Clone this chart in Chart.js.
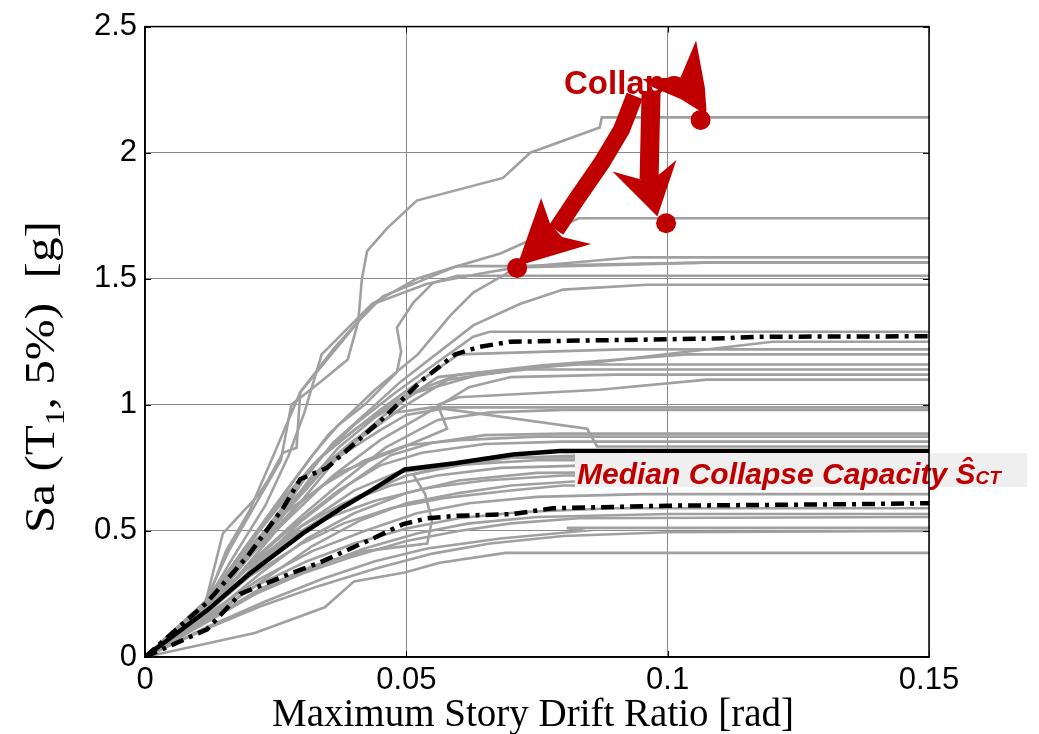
<!DOCTYPE html>
<html>
<head>
<meta charset="utf-8">
<script src="https://cdn.jsdelivr.net/npm/chart.js@4.4.1/dist/chart.umd.min.js"></script>
<style>
  html, body { margin: 0; padding: 0; background: #ffffff; }
  #wrap { width: 1039px; height: 734px; position: relative; }
</style>
</head>
<body>
<div id="wrap"><canvas id="ida" width="1039" height="734"></canvas></div>
<script>
// ---- Incremental dynamic analysis curves: [max story drift ratio, Sa(T1,5%)] ----
const strongRecords = [
  [[0,0],[0.0115,0.22],[0.016,0.42],[0.021,0.6],[0.026,0.78],[0.028,1.0],[0.0335,1.09],[0.0388,1.18],[0.0408,1.33],[0.0415,1.5],[0.0425,1.61],[0.0463,1.7],[0.052,1.81],[0.0685,1.9],[0.0737,2.0],[0.087,2.1],[0.0874,2.14],[0.15,2.14]],
  [[0,0],[0.0115,0.21],[0.0149,0.49],[0.0216,0.64],[0.0235,0.7],[0.0264,0.81],[0.029,0.83],[0.0297,1.05],[0.036,1.22],[0.0403,1.32],[0.0455,1.43],[0.0597,1.55],[0.068,1.6],[0.083,1.74],[0.15,1.74]],
  [[0,0],[0.0115,0.21],[0.017,0.4],[0.023,0.6],[0.0275,0.8],[0.0305,0.97],[0.0338,1.2],[0.0434,1.4],[0.052,1.5],[0.0597,1.55],[0.0712,1.55],[0.109,1.565],[0.15,1.565]],
  [[0,0],[0.0115,0.2],[0.019,0.43],[0.027,0.66],[0.035,0.88],[0.044,1.06],[0.0522,1.2],[0.0584,1.354],[0.0628,1.445],[0.0712,1.545],[0.0934,1.585],[0.15,1.585]],
  [[0,0],[0.011,0.19],[0.018,0.4],[0.025,0.6],[0.032,0.8],[0.037,0.92],[0.042,1.0],[0.0482,1.13],[0.049,1.21],[0.0482,1.307],[0.0513,1.405],[0.0551,1.484],[0.0597,1.512],[0.15,1.512]],
  [[0,0],[0.012,0.2],[0.02,0.42],[0.028,0.64],[0.036,0.85],[0.043,0.98],[0.0488,1.09],[0.0628,1.315],[0.0717,1.4],[0.08,1.457],[0.096,1.476],[0.15,1.476]],
  [[0,0],[0.0115,0.2],[0.0155,0.42],[0.02,0.58],[0.025,0.82],[0.0297,1.05],[0.0436,1.4],[0.054,1.48],[0.064,1.52],[0.0712,1.545],[0.109,1.565],[0.15,1.565]]
];

const upperMidRecords = [
  [[0,0],[0.0115,0.21],[0.018,0.4],[0.025,0.58],[0.032,0.76],[0.04,0.92],[0.048,1.05],[0.056,1.17],[0.0628,1.27],[0.066,1.29],[0.15,1.29]],
  [[0,0],[0.012,0.19],[0.02,0.4],[0.027,0.6],[0.033,0.78],[0.04,0.9],[0.05,1.04],[0.06,1.12],[0.087,1.17],[0.12,1.25],[0.15,1.25]],
  [[0,0],[0.0115,0.2],[0.019,0.42],[0.026,0.62],[0.034,0.8],[0.045,0.98],[0.053,1.1],[0.06,1.2],[0.091,1.22],[0.15,1.22]],
  [[0,0],[0.012,0.18],[0.021,0.4],[0.03,0.62],[0.038,0.82],[0.047,0.98],[0.056,1.11],[0.076,1.157],[0.1037,1.2],[0.15,1.2]],
  [[0,0],[0.0115,0.19],[0.02,0.41],[0.026,0.55],[0.032,0.72],[0.04,0.86],[0.05,1.0],[0.058,1.1],[0.075,1.15],[0.083,1.16],[0.15,1.16]],
  [[0,0],[0.012,0.2],[0.022,0.45],[0.03,0.66],[0.037,0.83],[0.044,0.95],[0.052,1.05],[0.064,1.12],[0.073,1.14],[0.15,1.14]],
  [[0,0],[0.011,0.18],[0.019,0.38],[0.028,0.56],[0.036,0.72],[0.045,0.86],[0.055,0.98],[0.062,1.07],[0.07,1.11],[0.09,1.12],[0.15,1.12]],
  [[0,0],[0.0115,0.2],[0.021,0.42],[0.029,0.6],[0.037,0.73],[0.0488,0.827],[0.0578,0.905],[0.056,1.0],[0.06,1.03],[0.087,1.06],[0.1075,1.1],[0.15,1.1]]
];

const lowerMidRecords = [
  [[0,0],[0.0115,0.2],[0.02,0.4],[0.028,0.6],[0.035,0.76],[0.042,0.88],[0.048,0.97],[0.055,0.99],[0.15,0.99]],
  [[0,0],[0.012,0.19],[0.021,0.39],[0.03,0.56],[0.038,0.7],[0.046,0.83],[0.056,0.94],[0.066,0.97],[0.08,0.98],[0.15,0.98]],
  [[0,0],[0.0115,0.2],[0.02,0.43],[0.028,0.62],[0.036,0.78],[0.045,0.9],[0.05,0.96],[0.057,0.985],[0.0846,0.905],[0.0865,0.835],[0.15,0.835]],
  [[0,0],[0.012,0.18],[0.022,0.38],[0.03,0.54],[0.04,0.7],[0.047,0.8],[0.055,0.85],[0.065,0.88],[0.08,0.886],[0.15,0.886]],
  [[0,0],[0.011,0.2],[0.018,0.4],[0.026,0.56],[0.034,0.68],[0.042,0.78],[0.05,0.84],[0.06,0.86],[0.075,0.874],[0.15,0.874]],
  [[0,0],[0.012,0.19],[0.02,0.37],[0.029,0.53],[0.037,0.66],[0.045,0.76],[0.053,0.81],[0.065,0.845],[0.08,0.854],[0.15,0.854]]
];

const centralRecords = [
  [[0,0],[0.012,0.18],[0.021,0.36],[0.03,0.5],[0.04,0.63],[0.05,0.72],[0.06,0.76],[0.07,0.79],[0.085,0.8],[0.15,0.8]],
  [[0,0],[0.011,0.17],[0.02,0.34],[0.03,0.52],[0.04,0.66],[0.048,0.73],[0.058,0.76],[0.075,0.78],[0.15,0.78]],
  [[0,0],[0.0115,0.19],[0.021,0.38],[0.03,0.52],[0.038,0.61],[0.047,0.68],[0.056,0.72],[0.068,0.75],[0.085,0.76],[0.15,0.76]],
  [[0,0],[0.012,0.16],[0.022,0.33],[0.031,0.47],[0.04,0.57],[0.05,0.65],[0.06,0.7],[0.075,0.73],[0.15,0.74]],
  [[0,0],[0.011,0.18],[0.019,0.34],[0.028,0.48],[0.036,0.56],[0.044,0.62],[0.054,0.67],[0.065,0.7],[0.08,0.72],[0.15,0.72]],
  [[0,0],[0.012,0.15],[0.023,0.31],[0.032,0.44],[0.041,0.54],[0.05,0.61],[0.06,0.65],[0.07,0.68],[0.085,0.7],[0.15,0.7]],
  [[0,0],[0.0115,0.17],[0.02,0.32],[0.03,0.45],[0.038,0.53],[0.047,0.59],[0.057,0.63],[0.07,0.66],[0.08,0.68],[0.15,0.68]],
  [[0,0],[0.0115,0.14],[0.022,0.27],[0.032,0.36],[0.042,0.42],[0.054,0.45],[0.0549,0.54],[0.0536,0.646],[0.0513,0.724],[0.06,0.77],[0.07,0.79],[0.15,0.795]]
];

const weakRecords = [
  [[0,0],[0.012,0.17],[0.022,0.31],[0.032,0.42],[0.042,0.5],[0.052,0.57],[0.062,0.61],[0.075,0.635],[0.095,0.646],[0.15,0.646]],
  [[0,0],[0.0115,0.15],[0.021,0.28],[0.031,0.38],[0.04,0.45],[0.05,0.51],[0.06,0.55],[0.072,0.575],[0.09,0.59],[0.15,0.59]],
  [[0,0],[0.012,0.14],[0.022,0.26],[0.033,0.36],[0.042,0.43],[0.052,0.49],[0.062,0.53],[0.075,0.555],[0.1,0.567],[0.15,0.567]],
  [[0,0],[0.011,0.13],[0.02,0.24],[0.03,0.33],[0.04,0.4],[0.05,0.46],[0.06,0.5],[0.07,0.53],[0.083,0.55],[0.15,0.555]],
  [[0,0],[0.012,0.12],[0.023,0.22],[0.034,0.31],[0.044,0.38],[0.054,0.43],[0.068,0.47],[0.0838,0.5],[0.0807,0.512],[0.15,0.512]],
  [[0,0],[0.0115,0.11],[0.022,0.2],[0.033,0.28],[0.044,0.35],[0.055,0.41],[0.066,0.45],[0.08,0.48],[0.1,0.495],[0.15,0.5]],
  [[0,0],[0.021,0.095],[0.0344,0.197],[0.04,0.3],[0.0497,0.335],[0.0564,0.374],[0.069,0.413],[0.15,0.413]]
];

// ---- Fractile curves of the record set ----
const medianCurve = [[0,0],[0.0119,0.185],[0.02,0.33],[0.0302,0.49],[0.0379,0.595],[0.0436,0.665],[0.0497,0.744],[0.0593,0.768],[0.0704,0.803],[0.0794,0.817],[0.15,0.817]];
const upperFractileCurve = [[0,0],[0.0119,0.217],[0.02,0.41],[0.0264,0.59],[0.0297,0.705],[0.0348,0.75],[0.0405,0.854],[0.0463,0.96],[0.0526,1.09],[0.0593,1.2],[0.064,1.23],[0.0698,1.25],[0.087,1.256],[0.1,1.26],[0.111,1.264],[0.117,1.27],[0.15,1.272]];
const lowerFractileCurve = [[0,0],[0.0119,0.11],[0.0182,0.25],[0.0277,0.33],[0.0335,0.375],[0.0436,0.47],[0.0494,0.527],[0.054,0.55],[0.0597,0.56],[0.0704,0.567],[0.078,0.59],[0.1,0.6],[0.136,0.606],[0.15,0.61]];

// ---- Collapse points highlighted on three records ----
const collapsePoints = [[0.0712,1.543],[0.0997,1.72],[0.1063,2.13]];

// ---- Axis ticks ----
const driftTicks = [0, 0.05, 0.1, 0.15];
const saTicks = [0, 0.5, 1, 1.5, 2, 2.5];

const RED = '#c00000';
const GREY = '#a0a0a0';
const toXY = pts => pts.map(([x, y]) => ({ x, y }));

const datasets = [];
datasets.push({ data: toXY(collapsePoints), showLine: false, pointRadius: 10, pointHoverRadius: 10,
  pointBackgroundColor: RED, pointBorderColor: RED, pointBorderWidth: 0 });
datasets.push({ data: toXY(medianCurve), borderColor: '#000', borderWidth: 4.5, pointRadius: 0 });
datasets.push({ data: toXY(upperFractileCurve), borderColor: '#000', borderWidth: 4.5, pointRadius: 0,
  borderDash: [13, 6, 4, 6], borderCapStyle: 'butt' });
datasets.push({ data: toXY(lowerFractileCurve), borderColor: '#000', borderWidth: 4.5, pointRadius: 0,
  borderDash: [13, 6, 4, 6], borderCapStyle: 'butt' });
[strongRecords, upperMidRecords, lowerMidRecords, centralRecords, weakRecords].forEach(group => {
  group.forEach(rec => datasets.push({ data: toXY(rec), borderColor: GREY, borderWidth: 2.6, pointRadius: 0 }));
});

function fillPoly(ctx, pts) {
  ctx.beginPath();
  ctx.moveTo(pts[0][0], pts[0][1]);
  for (let i = 1; i < pts.length; i++) ctx.lineTo(pts[i][0], pts[i][1]);
  ctx.closePath();
  ctx.fill();
}

const decorations = {
  id: 'decorations',
  afterDatasetsDraw(chart) {
    const { ctx, scales: { x, y } } = chart;
    ctx.save();

    // median collapse capacity label
    ctx.fillStyle = '#efefef';
    ctx.fillRect(575, 453, 452, 34);
    ctx.fillStyle = RED;
    ctx.textBaseline = 'alphabetic';
    ctx.textAlign = 'left';
    ctx.font = 'italic bold 30px "Liberation Sans", Arial, sans-serif';
    const main = 'Median Collapse Capacity ';
    ctx.fillText(main, 577, 484);
    let tx = 577 + ctx.measureText(main).width;
    ctx.fillText('\u015C', tx, 484);
    tx += ctx.measureText('\u015C').width;
    ctx.font = 'italic bold 19px "Liberation Sans", Arial, sans-serif';
    ctx.fillText('CT', tx, 484);

    // "Collapse" annotation text
    ctx.font = 'bold 33px "Liberation Sans", Arial, sans-serif';
    ctx.fillStyle = RED;
    ctx.fillText('Collapse', 564, 94);

    // arrows toward the collapse points
    const p = collapsePoints.map(([dx, sa]) => [x.getPixelForValue(dx), y.getPixelForValue(sa)]);
    const rel = (o, pts) => pts.map(([a, b]) => [o[0] + a, o[1] + b]);
    ctx.strokeStyle = RED;
    ctx.lineJoin = 'round';
    ctx.lineCap = 'butt';

    // arrow 1 (curved shaft)
    const s1 = rel(p[0], [[117.5, -172], [104.5, -138.6], [84.7, -105.3], [60.5, -70.3], [39, -38]]);
    ctx.lineWidth = 17;
    ctx.beginPath();
    ctx.moveTo(s1[0][0], s1[0][1]);
    for (let i = 1; i < s1.length; i++) ctx.lineTo(s1[i][0], s1[i][1]);
    ctx.stroke();
    fillPoly(ctx, rel(p[0], [[0, -2], [24, -70], [33, -44], [45, -31], [74, -24]]));

    // arrow 2
    const s2 = rel(p[1], [[-15, -132], [-16, -90], [-17, -44]]);
    ctx.lineWidth = 19;
    ctx.beginPath();
    ctx.moveTo(s2[0][0], s2[0][1]);
    for (let i = 1; i < s2.length; i++) ctx.lineTo(s2[i][0], s2[i][1]);
    ctx.stroke();
    fillPoly(ctx, rel(p[1], [[-8.7, -6.7], [-53.6, -51.7], [-26, -44], [-9, -47], [10.3, -63.3]]));

    // arrow 3
    fillPoly(ctx, rel(p[2], [[-58, -41], [-20, -42.7], [-4.5, -79.3], [4.2, -32.7], [5.9, -9.3], [4.2, -6], [-20, -21], [-47.7, -32.7]]));

    ctx.restore();
  },
  afterDraw(chart) {
    const { ctx, chartArea: a, scales: { x, y } } = chart;
    ctx.save();
    // box and inward tick marks
    ctx.strokeStyle = '#000';
    ctx.lineWidth = 1.5;
    ctx.strokeRect(a.left, a.top, a.right - a.left, a.bottom - a.top);
    ctx.lineWidth = 1;
    ctx.beginPath();
    driftTicks.forEach(v => {
      const px = Math.round(x.getPixelForValue(v)) + 0.5;
      ctx.moveTo(px, a.bottom); ctx.lineTo(px, a.bottom - 6);
      ctx.moveTo(px, a.top); ctx.lineTo(px, a.top + 6);
    });
    saTicks.forEach(v => {
      const py = Math.round(y.getPixelForValue(v)) + 0.5;
      ctx.moveTo(a.left, py); ctx.lineTo(a.left + 6, py);
      ctx.moveTo(a.right, py); ctx.lineTo(a.right - 6, py);
    });
    ctx.stroke();

    // axis titles
    ctx.fillStyle = '#000';
    ctx.textBaseline = 'alphabetic';
    ctx.textAlign = 'left';
    ctx.font = '39px "Liberation Serif", "Times New Roman", serif';
    ctx.fillText('Maximum Story Drift Ratio [rad]', 272, 726);

    ctx.translate(54, 533);
    ctx.rotate(-Math.PI / 2);
    ctx.scale(1.17, 1);
    let cx = 0;
    ctx.font = '42px "Liberation Serif", "Times New Roman", serif';
    ctx.fillText('Sa (T', cx, 0);
    cx += ctx.measureText('Sa (T').width;
    ctx.font = '27px "Liberation Serif", "Times New Roman", serif';
    ctx.fillText('1', cx, 10);
    cx += ctx.measureText('1').width;
    ctx.font = '42px "Liberation Serif", "Times New Roman", serif';
    ctx.fillText(', 5%)  [g]', cx, 0);
    ctx.restore();
  }
};

new Chart(document.getElementById('ida'), {
  type: 'line',
  data: { datasets },
  options: {
    responsive: false,
    animation: false,
    devicePixelRatio: 1,
    events: [],
    parsing: true,
    elements: { line: { tension: 0, fill: false } },
    layout: { padding: { top: 22, right: 110, left: 0, bottom: 0 } },
    plugins: { legend: { display: false }, tooltip: { enabled: false }, title: { display: false } },
    scales: {
      x: {
        type: 'linear', min: 0, max: 0.15,
        afterBuildTicks: s => { s.ticks = driftTicks.map(v => ({ value: v })); },
        afterFit: s => { s.height = 77; },
        ticks: { color: '#000', font: { family: '"Liberation Sans", Arial, sans-serif', size: 31 }, padding: 5,
          callback: v => String(+v.toFixed(2)) },
        grid: { color: '#8a8a8a', lineWidth: 1, drawTicks: false },
        border: { color: '#000', width: 1.5 }
      },
      y: {
        type: 'linear', min: 0, max: 2.5,
        afterBuildTicks: s => { s.ticks = saTicks.map(v => ({ value: v })); },
        afterFit: s => { s.width = 145; },
        ticks: { color: '#000', font: { family: '"Liberation Sans", Arial, sans-serif', size: 31 }, padding: 8,
          callback: v => String(+v.toFixed(2)) },
        grid: { color: '#8a8a8a', lineWidth: 1, drawTicks: false },
        border: { color: '#000', width: 1.5 }
      }
    }
  },
  plugins: [decorations]
});
</script>
</body>
</html>
